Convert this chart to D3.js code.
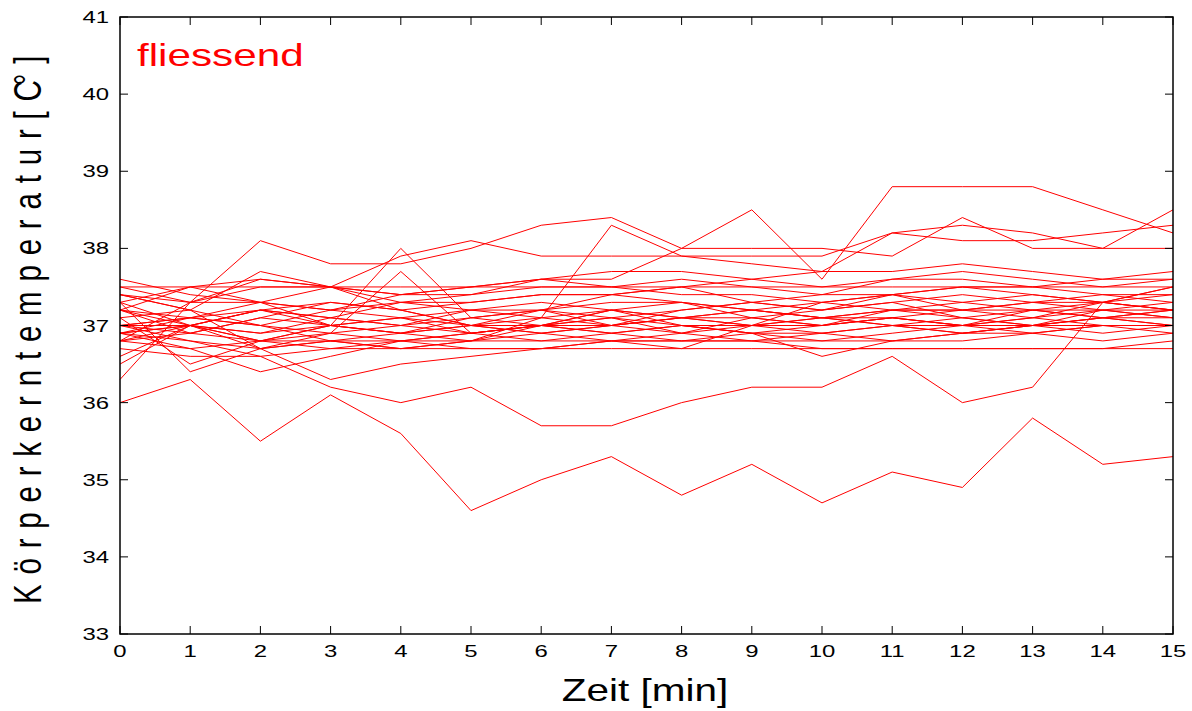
<!DOCTYPE html>
<html>
<head>
<meta charset="utf-8">
<script src="https://d3js.org/d3.v7.min.js"></script>
<style>
  html, body { margin: 0; padding: 0; background: #fff; }
  svg { display: block; }
  text { font-family: "Liberation Sans", Arial, Helvetica, sans-serif; }
</style>
</head>
<body>
<svg id="chart" width="1192" height="711"></svg>
<script>
// ---- data ----
const minutes = [0,1,2,3,4,5,6,7,8,9,10,11,12,13,14,15];
const xTicks = [0,1,2,3,4,5,6,7,8,9,10,11,12,13,14,15];
const yTicks = [33,34,35,36,37,38,39,40,41];
const title = "fliessend";
const xLabel = "Zeit [min]";
const yLabelMain = "Körperkerntemperatur[C";
const yLabelDeg = "°";
const yLabelEnd = "]";

const sA  = [36.0,36.3,35.5,36.1,35.6,34.6,35.0,35.3,34.8,35.2,34.7,35.1,34.9,35.8,35.2,35.3];
const sB  = [36.9,36.8,36.6,36.2,36.0,36.2,35.7,35.7,36.0,36.2,36.2,36.6,36.0,36.2,37.3,37.5];
const sL1 = [37.0,37.1,37.3,37.2,37.4,37.5,37.6,37.6,38.0,38.5,37.6,38.8,38.8,38.8,38.5,38.2];
const sL3 = [36.9,37.0,36.8,37.0,36.9,36.8,37.1,38.3,37.9,37.8,37.7,38.2,38.1,38.1,38.2,38.3];
const sL4 = [36.8,37.3,38.1,37.8,37.8,38.0,38.3,38.4,38.0,38.0,38.0,37.9,38.4,38.0,38.0,38.0];
const sL5 = [37.2,37.5,37.6,37.5,37.9,38.1,37.9,37.9,37.9,37.9,37.9,38.2,38.3,38.2,38.0,38.5];
const sL6 = [37.0,36.9,37.1,37.0,38.0,37.1,37.2,37.0,37.2,37.3,37.2,37.4,37.3,37.4,37.3,37.5];
const sL7 = [37.2,37.0,36.8,36.9,37.7,36.9,37.0,37.2,37.3,37.1,37.0,37.2,37.1,37.0,37.2,37.1];
const sS3 = [36.3,37.3,37.5,37.5,37.3,37.2,37.2,37.3,37.3,37.2,37.1,37.2,37.3,37.2,37.2,37.3];
const sF1 = [37.6,37.4,37.3,37.5,37.4,37.4,37.5,37.5,37.4,37.4,37.3,37.4,37.5,37.4,37.3,37.4];
const sF2 = [37.5,37.5,37.5,37.5,37.5,37.5,37.5,37.5,37.5,37.5,37.5,37.5,37.5,37.5,37.5,37.5];
const sF3 = [37.5,37.3,37.6,37.5,37.2,37.0,37.2,37.4,37.5,37.6,37.5,37.6,37.6,37.5,37.6,37.6];
const sF4 = [37.4,37.2,37.7,37.5,37.4,37.5,37.6,37.7,37.7,37.6,37.7,37.7,37.8,37.7,37.6,37.7];
const sF5 = [37.4,37.3,37.3,37.2,37.1,37.2,37.3,37.2,37.1,37.2,37.1,37.2,37.2,37.3,37.2,37.2];
const sF6 = [37.3,37.0,37.2,37.1,37.0,37.1,37.2,37.1,37.2,37.3,37.2,37.3,37.4,37.3,37.4,37.3];
const sF7 = [37.3,37.5,37.3,37.0,36.9,37.0,37.0,37.1,37.0,37.0,37.1,37.0,37.1,37.2,37.1,37.2];
const sF8 = [37.2,37.1,37.0,37.2,37.3,37.4,37.6,37.5,37.6,37.5,37.4,37.6,37.7,37.6,37.5,37.6];
const sF9 = [37.2,36.9,37.1,37.3,37.2,37.0,36.9,37.0,37.1,37.0,36.9,37.0,37.0,37.1,37.0,37.0];
const sF10 = [37.1,37.2,37.0,36.8,36.7,36.8,37.0,37.2,37.0,36.9,37.0,37.1,37.2,37.2,37.1,37.2];
const sF11 = [37.0,37.0,37.2,37.3,37.2,37.3,37.4,37.4,37.3,37.2,37.3,37.4,37.2,37.3,37.3,37.2];
const sF12 = [37.0,36.8,36.7,36.8,36.9,37.0,36.9,36.8,36.9,37.0,37.1,37.0,36.9,37.0,37.0,36.9];
const sF13 = [36.9,37.0,36.9,37.1,37.0,36.9,36.8,36.9,37.0,36.9,36.9,36.8,36.9,36.9,37.0,37.0];
const sF14 = [36.9,37.1,37.0,36.9,36.8,36.9,37.0,37.1,36.9,37.1,37.2,37.3,37.1,37.0,37.1,37.1];
const sF15 = [36.8,36.7,36.8,36.8,36.8,36.8,36.8,36.8,36.8,36.8,36.8,36.8,36.8,36.9,36.8,36.9];
const sF16 = [36.8,37.0,36.7,36.9,37.0,37.2,37.1,37.0,37.1,37.2,37.1,37.1,37.0,37.2,37.3,37.2];
const sF17 = [36.5,37.0,37.2,37.1,37.3,37.3,37.4,37.4,37.5,37.3,37.4,37.4,37.5,37.5,37.4,37.4];
const sF18 = [36.6,37.0,36.9,37.0,37.1,36.9,37.0,36.9,36.8,36.9,36.8,36.9,37.0,36.9,37.0,37.0];
const sF19 = [36.7,36.6,36.6,36.7,36.8,36.7,36.7,36.8,36.7,37.0,37.3,37.2,37.2,37.1,37.3,37.2];
const sV1 = [37.4,37.2,36.7,36.3,36.5,36.6,36.7,36.7,36.7,36.7,36.7,36.7,36.7,36.7,36.7,36.7];
const sV2 = [36.9,36.7,36.4,36.6,36.8,36.9,37.0,37.0,36.9,36.8,36.9,37.0,36.9,37.0,36.9,37.0];
const sV3 = [37.3,36.4,36.7,36.8,36.7,36.8,36.9,37.0,37.1,37.0,37.0,37.1,37.0,37.1,37.2,37.1];
const sV4 = [37.1,36.5,36.8,37.0,37.1,37.0,37.1,37.2,37.1,37.1,37.0,37.1,37.0,37.0,37.1,37.0];
const sV5 = [37.0,37.1,37.2,37.0,36.9,37.1,37.0,36.9,37.0,36.9,36.6,36.8,36.9,37.0,37.1,37.0];
const sV6 = [36.8,36.9,36.8,36.7,36.7,36.7,36.7,36.8,36.8,36.8,36.7,36.7,36.7,36.7,36.7,36.8];

const seriesList = [sA,sB,sL1,sL3,sL4,sL5,sL6,sL7,sS3,sF1,sF2,sF3,sF4,sF5,sF6,sF7,sF8,sF9,sF10,
  sF11,sF12,sF13,sF14,sF15,sF16,sF17,sF18,sF19,sV1,sV2,sV3,sV4,sV5,sV6];

// ---- layout ----
const svg = d3.select("#chart");
const pLeft = 120, pRight = 1173, pTop = 17, pBottom = 634;
const x = d3.scaleLinear().domain([0, 15]).range([pLeft, pRight]);
const y = d3.scaleLinear().domain([33, 41]).range([pBottom, pTop]);
const tickLen = 8;
const stretch = 1.45;

// series lines
const line = d3.line().x((d, i) => x(minutes[i])).y(d => y(d));
svg.append("g")
  .selectAll("path")
  .data(seriesList)
  .join("path")
  .attr("d", d => line(d))
  .attr("fill", "none")
  .attr("stroke", "#ff0000")
  .attr("stroke-width", 1)
  .attr("stroke-linejoin", "miter");

// frame
svg.append("rect")
  .attr("x", pLeft).attr("y", pTop)
  .attr("width", pRight - pLeft).attr("height", pBottom - pTop)
  .attr("fill", "none").attr("stroke", "#000").attr("stroke-width", 1.5);

// ticks (inside, all four sides)
const tg = svg.append("g").attr("stroke", "#000").attr("stroke-width", 1);
xTicks.forEach(t => {
  tg.append("line").attr("x1", x(t)).attr("x2", x(t)).attr("y1", pBottom).attr("y2", pBottom - tickLen);
  tg.append("line").attr("x1", x(t)).attr("x2", x(t)).attr("y1", pTop).attr("y2", pTop + tickLen);
});
yTicks.forEach(t => {
  tg.append("line").attr("x1", pLeft).attr("x2", pLeft + tickLen).attr("y1", y(t)).attr("y2", y(t));
  tg.append("line").attr("x1", pRight).attr("x2", pRight - tickLen).attr("y1", y(t)).attr("y2", y(t));
});

// tick labels
xTicks.forEach(t => {
  svg.append("g").attr("transform", `translate(${x(t)},657) scale(${stretch},1)`)
    .append("text").attr("text-anchor", "middle").attr("font-size", 16.5).attr("fill", "#000").text(t);
});
yTicks.forEach(t => {
  svg.append("g").attr("transform", `translate(109,${y(t) + 6}) scale(${stretch},1)`)
    .append("text").attr("text-anchor", "end").attr("font-size", 16.5).attr("fill", "#000").text(t);
});

// title inside plot
svg.append("g").attr("transform", "translate(137,66) scale(1.32,1)")
  .append("text").attr("font-size", 32).attr("fill", "#ff0000").text(title);

// x label
svg.append("g").attr("transform", "translate(645,701) scale(1.33,1)")
  .append("text").attr("text-anchor", "middle").attr("font-size", 30.5).attr("fill", "#000").text(xLabel);

// y label (rotated), degree ring tucked against the C
const yl = svg.append("g").attr("transform", "translate(41,604) scale(1.33,1) rotate(-90)")
  .append("text").attr("font-size", 29.5).attr("fill", "#000").attr("letter-spacing", 9.8);
yl.append("tspan").text(yLabelMain);
yl.append("tspan").attr("dx", -15).text(yLabelDeg);
yl.append("tspan").text(yLabelEnd);
</script>
</body>
</html>
